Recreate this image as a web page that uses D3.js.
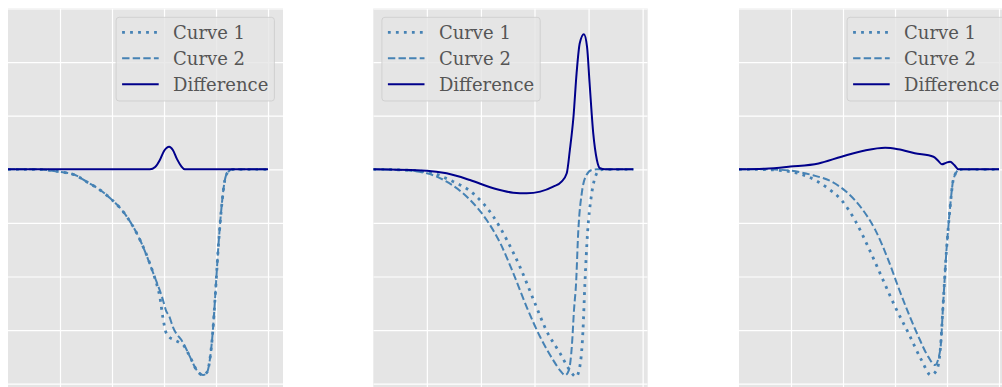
<!DOCTYPE html>
<html>
<head>
<meta charset="utf-8">
<script src="https://cdn.jsdelivr.net/npm/d3@7"></script>
<style>
  html, body { margin: 0; padding: 0; background: #ffffff; }
  svg { display: block; }
</style>
</head>
<body>
<svg id="chart" width="1002" height="387"></svg>
<script>
// ---- data -------------------------------------------------------------
const seriesNames = ["Curve 1", "Curve 2", "Difference"];
const yTicks = [-4, -3, -2, -1, 0, 1, 2, 3];

// Panel A
const xTicksA = [1, 2, 3, 4, 5];
const curve1A = [[0,0],[0.48,0],[0.98,-0.045],[1.29,-0.106],[1.52,-0.237],[1.77,-0.386],[1.96,-0.535],
  [2.29,-0.89],[2.54,-1.32],[2.79,-1.93],[2.865,-2.16],[2.92,-2.38],[2.98,-2.775],[3.04,-3.05],
  [3.10,-3.13],[3.19,-3.18],[3.31,-3.24],[3.37,-3.28],[3.50,-3.50],[3.63,-3.75],[3.75,-3.84],
  [3.83,-3.78],[3.88,-3.56],[3.94,-3.0],[3.98,-2.44],[4.04,-1.51],[4.12,-0.57],[4.17,-0.2],
  [4.23,-0.05],[4.33,0],[5,0]];
const curve2A = [[0,0],[0.48,0],[0.98,-0.045],[1.29,-0.106],[1.52,-0.237],[1.77,-0.386],[1.96,-0.535],
  [2.29,-0.89],[2.54,-1.32],[2.79,-1.93],[2.98,-2.44],[3.04,-2.64],[3.10,-2.74],[3.17,-2.94],
  [3.37,-3.24],[3.50,-3.50],[3.63,-3.75],[3.75,-3.84],[3.83,-3.78],[3.88,-3.56],[3.94,-3.0],
  [3.98,-2.44],[4.04,-1.51],[4.12,-0.57],[4.17,-0.2],[4.23,-0.05],[4.33,0],[5,0]];
const diffA = [[0,0],[2.73,0],[2.83,0.043],[2.92,0.174],[3.0,0.341],[3.10,0.42],[3.17,0.36],
  [3.25,0.19],[3.33,0.06],[3.40,0],[5,0]];

// Panel B
const xTicksB = [1.03, 2.07, 3.1, 4.14, 5.18];
const curve1B = [[0,0],[0.51,-0.01],[1.03,-0.045],[1.47,-0.2],[1.92,-0.45],[2.31,-0.884],[2.57,-1.32],
  [2.82,-1.82],[3.08,-2.43],[3.33,-3.01],[3.59,-3.43],[3.78,-3.75],[3.90,-3.87],[3.97,-3.69],
  [4.03,-3.05],[4.07,-2.12],[4.12,-1.19],[4.19,-0.52],[4.27,-0.14],[4.36,-0.013],[4.46,0],[5,0]];
const curve2B = [[0,0],[0.51,-0.013],[1.03,-0.075],[1.41,-0.23],[1.86,-0.57],[2.18,-0.946],[2.44,-1.375],
  [2.69,-1.935],[2.95,-2.57],[3.21,-3.13],[3.46,-3.56],[3.59,-3.75],[3.69,-3.84],[3.76,-3.75],
  [3.82,-3.28],[3.86,-2.62],[3.90,-2.12],[3.94,-1.19],[4.01,-0.44],[4.10,-0.106],[4.20,-0.013],
  [4.30,0],[5,0]];
const diffB = [[0,0],[1.03,-0.026],[1.41,-0.075],[1.86,-0.2],[2.31,-0.354],[2.69,-0.436],[2.95,-0.448],
  [3.21,-0.417],[3.46,-0.324],[3.62,-0.23],[3.72,-0.075],[3.78,0.36],[3.85,0.985],[3.91,1.80],
  [3.97,2.35],[4.05,2.52],[4.11,2.29],[4.16,1.60],[4.23,0.67],[4.30,0.174],[4.36,0.019],[4.46,0],[5,0]];

// Panel C
const xTicksC = [1, 2, 3, 4, 5];
const curve1C = [[0,0],[0.5,-0.005],[0.99,-0.045],[1.33,-0.14],[1.71,-0.355],[1.97,-0.575],[2.23,-0.95],
  [2.48,-1.44],[2.74,-2.0],[3.0,-2.56],[3.26,-3.06],[3.51,-3.56],[3.69,-3.84],[3.80,-3.75],
  [3.87,-3.37],[3.93,-2.44],[3.99,-1.51],[4.06,-0.70],[4.12,-0.2],[4.22,-0.013],[4.28,0],[5,0]];
const curve2C = [[0,0],[0.5,0],[0.99,-0.026],[1.40,-0.106],[1.78,-0.23],[2.10,-0.45],[2.36,-0.73],
  [2.62,-1.13],[2.87,-1.69],[3.06,-2.19],[3.26,-2.69],[3.45,-3.12],[3.64,-3.50],[3.77,-3.65],
  [3.87,-3.37],[3.93,-2.44],[3.99,-1.51],[4.06,-0.70],[4.12,-0.2],[4.22,-0.013],[4.28,0],[5,0]];
const diffC = [[0,0],[0.5,0.01],[0.99,0.05],[1.53,0.11],[1.97,0.235],[2.42,0.35],[2.81,0.40],
  [3.06,0.373],[3.38,0.30],[3.74,0.235],[3.83,0.16],[3.90,0.093],[3.98,0.12],[4.06,0.142],
  [4.14,0.08],[4.22,0],[5,0]];

// ---- layout & styles -------------------------------------------------
const panels = [
  { left: 8,     width: 275,   xMax: 5.288, xTicks: xTicksA, series: [curve1A, curve2A, diffA], legend: "right" },
  { left: 373.3, width: 274.4, xMax: 5.277, xTicks: xTicksB, series: [curve1B, curve2B, diffB], legend: "left" },
  { left: 739,   width: 275,   xMax: 5.288, xTicks: xTicksC, series: [curve1C, curve2C, diffC], legend: "right" }
];
const zeroY = 169.3, unitPx = 53.6;
const yMin = -4.3, yMax = 3;
const plotTop = zeroY - yMax * unitPx;
const plotBottom = zeroY - yMin * unitPx;

const styles = [
  { color: "#4682B4", width: 2.8, dash: "2.8,5.2" },
  { color: "#4682B4", width: 2.0, dash: "7.4,3.2" },
  { color: "#00008B", width: 2.0, dash: null }
];

const svg = d3.select("#chart");
const y = d3.scaleLinear().domain([yMin, yMax]).range([plotBottom, plotTop]);

panels.forEach((p, i) => {
  const x = d3.scaleLinear().domain([0, p.xMax]).range([p.left, p.left + p.width]);
  const g = svg.append("g");

  g.append("rect")
    .attr("x", p.left).attr("y", plotTop)
    .attr("width", p.width).attr("height", plotBottom - plotTop)
    .attr("fill", "#E5E5E5");

  const clipId = "clip" + i;
  g.append("clipPath").attr("id", clipId).append("rect")
    .attr("x", p.left).attr("y", plotTop)
    .attr("width", p.width).attr("height", plotBottom - plotTop);

  // grid lines: axes with full-length ticks inside an untransformed clipped group
  const grid = g.append("g").attr("clip-path", `url(#${clipId})`);
  const gx = grid.append("g")
    .attr("transform", `translate(0,${plotBottom})`)
    .call(d3.axisBottom(x).tickValues(p.xTicks).tickSize(-(plotBottom - plotTop)).tickFormat(""));
  const gy = grid.append("g")
    .attr("transform", `translate(${p.left},0)`)
    .call(d3.axisLeft(y).tickValues(yTicks).tickSize(-p.width).tickFormat(""));
  [gx, gy].forEach(a => {
    a.select(".domain").remove();
    a.selectAll(".tick line").attr("stroke", "#FFFFFF").attr("stroke-width", 1.2);
  });

  const line = d3.line().x(d => x(d[0])).y(d => y(d[1])).curve(d3.curveMonotoneX);
  const lines = g.append("g").attr("clip-path", `url(#${clipId})`);
  p.series.forEach((s, k) => {
    const st = styles[k];
    lines.append("path")
      .datum(s)
      .attr("d", line)
      .attr("fill", "none")
      .attr("stroke", st.color)
      .attr("stroke-width", st.width)
      .attr("stroke-dasharray", st.dash)
      .attr("stroke-linejoin", "round");
  });

  // legend
  const boxW = 158.3, boxH = 83.7, margin = 8.6;
  const lx = p.legend === "right" ? p.left + p.width - margin - boxW : p.left + margin;
  const ly = 17.3;
  const lg = g.append("g").attr("transform", `translate(${lx},${ly})`);
  lg.append("rect")
    .attr("x", 0).attr("y", 0).attr("width", boxW).attr("height", boxH)
    .attr("rx", 3).attr("ry", 3)
    .attr("fill", "#E5E5E5").attr("fill-opacity", 0.8)
    .attr("stroke", "#CCCCCC").attr("stroke-opacity", 0.8).attr("stroke-width", 1);
  seriesNames.forEach((name, k) => {
    const st = styles[k];
    const ry = 15 + k * 26;
    lg.append("line")
      .attr("x1", 6).attr("x2", 42.6).attr("y1", ry).attr("y2", ry)
      .attr("stroke", st.color).attr("stroke-width", st.width)
      .attr("stroke-dasharray", st.dash);
    lg.append("text")
      .attr("x", 57).attr("y", ry + 6.5)
      .attr("font-family", "DejaVu Serif")
      .attr("font-size", 18)
      .attr("fill", "#555555")
      .text(name);
  });
});
</script>
</body>
</html>
